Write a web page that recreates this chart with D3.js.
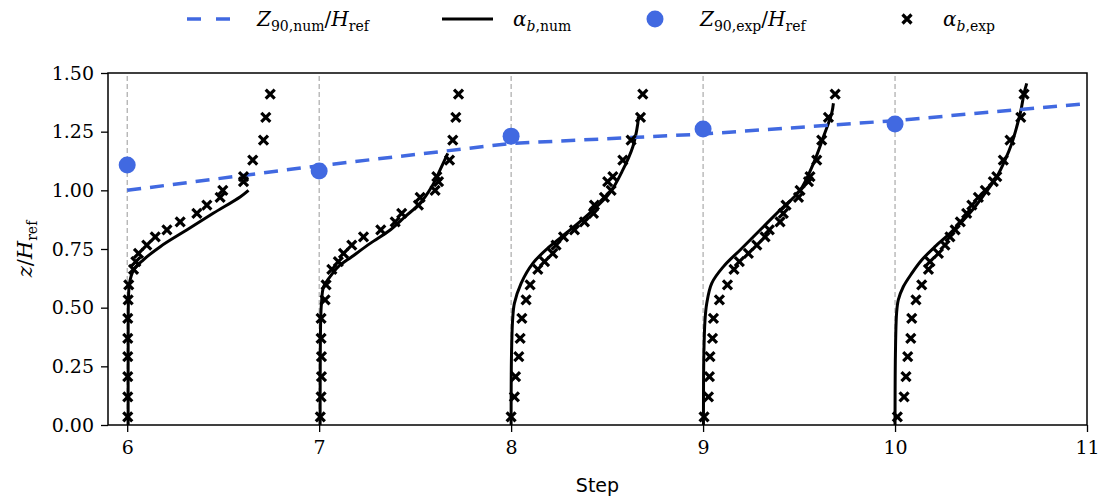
<!DOCTYPE html>
<html>
<head>
<meta charset="utf-8">
<script src="https://cdn.jsdelivr.net/npm/d3@7"></script>
<style>
  body { margin: 0; background: #fff; }
  svg { display: block; }
  .tick text { font-family: "DejaVu Serif", serif; font-size: 19px; }
  .math { font-family: "DejaVu Serif", serif; }
</style>
</head>
<body>
<svg id="chart" width="1104" height="498"></svg>
<script>
// steps (x ticks) and the dashed z90 line
const steps = [6, 7, 8, 9, 10];
const xTicks = [6, 7, 8, 9, 10, 11];
const yTicks = [0, 0.25, 0.5, 0.75, 1.0, 1.25, 1.5];
const z90NumStep = [6, 7, 8, 9, 10, 11];
const z90Num = [1.0, 1.105, 1.2, 1.24, 1.297, 1.37];
const z90Exp = [1.108, 1.082, 1.231, 1.261, 1.283];

// measurement heights of the experimental profiles
const expZ = [0.035, 0.12, 0.206, 0.291, 0.369, 0.454, 0.533, 0.597, 0.663, 0.696,
  0.731, 0.767, 0.802, 0.831, 0.866, 0.902, 0.937, 0.97, 1.0, 1.037, 1.058,
  1.129, 1.214, 1.311, 1.41];
const expA6 = [0.003, 0.003, 0.003, 0.003, 0.003, 0.003, 0.005, 0.008, 0.033, 0.045,
  0.059, 0.102, 0.146, 0.207, 0.276, 0.363, 0.415, 0.484, 0.498, 0.606, 0.606,
  0.654, 0.71, 0.722, 0.745];
const expA7 = [0.006, 0.01, 0.012, 0.012, 0.01, 0.01, 0.031, 0.036, 0.066, 0.1,
  0.127, 0.17, 0.231, 0.321, 0.396, 0.43, 0.517, 0.526, 0.604, 0.622, 0.613,
  0.679, 0.696, 0.712, 0.726];
const expA8 = [0.0, 0.017, 0.023, 0.04, 0.047, 0.056, 0.078, 0.099, 0.139, 0.174,
  0.217, 0.234, 0.273, 0.33, 0.382, 0.429, 0.434, 0.486, 0.521, 0.503, 0.53,
  0.582, 0.625, 0.674, 0.686];
const expA9 = [0.005, 0.028, 0.033, 0.036, 0.049, 0.054, 0.085, 0.127, 0.161, 0.189,
  0.236, 0.28, 0.323, 0.345, 0.401, 0.418, 0.432, 0.497, 0.505, 0.549, 0.557,
  0.592, 0.618, 0.653, 0.688];
const expA10 = [0.012, 0.047, 0.057, 0.066, 0.082, 0.087, 0.109, 0.139, 0.174, 0.182,
  0.226, 0.26, 0.286, 0.313, 0.34, 0.373, 0.4, 0.434, 0.47, 0.512, 0.53,
  0.564, 0.599, 0.655, 0.672];

// numerical profiles: heights and alpha
const numZ6 = [0, 0.3, 0.55, 0.605, 0.66, 0.703, 0.76, 0.831, 0.903, 0.973, 1.0];
const numA6 = [0.005, 0.005, 0.007, 0.012, 0.033, 0.083, 0.172, 0.31, 0.45, 0.59, 0.632];
const numZ7 = [0, 0.45, 0.518, 0.589, 0.632, 0.675, 0.717, 0.774, 0.831, 0.888, 0.945, 1.016, 1.087, 1.157];
const numA7 = [0.005, 0.008, 0.012, 0.023, 0.057, 0.1, 0.17, 0.266, 0.37, 0.448, 0.526, 0.587, 0.63, 0.67];
const numZ8 = [0, 0.3, 0.45, 0.518, 0.604, 0.689, 0.76, 0.817, 0.902, 0.987, 1.087, 1.186, 1.285, 1.314];
const numA8 = [0.0, 0.002, 0.008, 0.017, 0.052, 0.113, 0.2, 0.286, 0.408, 0.512, 0.582, 0.634, 0.66, 0.663];
const numZ9 = [0, 0.3, 0.447, 0.518, 0.604, 0.675, 0.746, 0.831, 0.916, 1.0, 1.115, 1.228, 1.328, 1.371];
const numA9 = [0.002, 0.004, 0.01, 0.019, 0.045, 0.106, 0.193, 0.297, 0.401, 0.505, 0.575, 0.627, 0.67, 0.679];
const numZ10 = [0, 0.3, 0.476, 0.533, 0.589, 0.646, 0.703, 0.76, 0.817, 0.873, 0.93, 0.987, 1.058, 1.129, 1.2, 1.271, 1.342, 1.413, 1.456];
const numA10 = [0.0, 0.002, 0.008, 0.017, 0.043, 0.087, 0.139, 0.208, 0.286, 0.356, 0.417, 0.469, 0.53, 0.573, 0.608, 0.634, 0.656, 0.672, 0.686];

const expA = [expA6, expA7, expA8, expA9, expA10];
const numZ = [numZ6, numZ7, numZ8, numZ9, numZ10];
const numA = [numA6, numA7, numA8, numA9, numA10];

const blue = "#4169e1";

const margin = { top: 73, right: 17, bottom: 73, left: 108 };
const W = 1104, H = 498;
const svg = d3.select("#chart");

const x = d3.scaleLinear().domain([5.9, 11]).range([margin.left, W - margin.right]);
const y = d3.scaleLinear().domain([0, 1.5]).range([H - margin.bottom, margin.top]);

svg.append("defs").append("clipPath").attr("id", "clip")
  .append("rect")
  .attr("x", margin.left).attr("y", margin.top)
  .attr("width", x.range()[1] - x.range()[0])
  .attr("height", y.range()[0] - y.range()[1]);

const plot = svg.append("g").attr("clip-path", "url(#clip)");

// vertical reference lines at each step
plot.selectAll("line.vgrid")
  .data(steps)
  .join("line")
  .attr("class", "vgrid")
  .attr("x1", (d) => x(d)).attr("x2", (d) => x(d))
  .attr("y1", y(0)).attr("y2", y(1.5))
  .attr("stroke", "#999").attr("stroke-width", 1)
  .attr("stroke-dasharray", "5,3");

// numerical profiles
const line = d3.line()
  .x((d) => x(d.s + d.a))
  .y((d) => y(d.z))
  .curve(d3.curveCatmullRom.alpha(0.5));

const numData = steps.map((s, i) => numZ[i].map((z, j) => ({ s, z, a: numA[i][j] })));
plot.selectAll("path.num")
  .data(numData)
  .join("path")
  .attr("class", "num")
  .attr("d", line)
  .attr("fill", "none")
  .attr("stroke", "#000")
  .attr("stroke-width", 3);

// dashed z90 numerical line
const z90Data = z90NumStep.map((s, i) => ({ s, z: z90Num[i] }));
plot.append("path")
  .datum(z90Data)
  .attr("d", d3.line().x((d) => x(d.s)).y((d) => y(d.z)))
  .attr("fill", "none")
  .attr("stroke", blue)
  .attr("stroke-width", 3.5)
  .attr("stroke-dasharray", "14,9");

// experimental points
const cross = "M-4.5,-4.5L4.5,4.5M4.5,-4.5L-4.5,4.5";
const expData = [];
steps.forEach((s, i) => expZ.forEach((z, j) => expData.push({ s, z, a: expA[i][j] })));
plot.selectAll("path.exp")
  .data(expData)
  .join("path")
  .attr("class", "exp")
  .attr("d", cross)
  .attr("transform", (d) => `translate(${x(d.s + d.a)},${y(d.z)})`)
  .attr("stroke", "#000")
  .attr("stroke-width", 3.2)
  .attr("fill", "none");

plot.selectAll("circle.z90exp")
  .data(steps)
  .join("circle")
  .attr("class", "z90exp")
  .attr("cx", (d) => x(d))
  .attr("cy", (d, i) => y(z90Exp[i]))
  .attr("r", 8.5)
  .attr("fill", blue);

// axes
const xAxis = svg.append("g")
  .attr("transform", `translate(0,${y(0)})`)
  .call(d3.axisBottom(x).tickValues(xTicks).tickFormat(d3.format("d")).tickSize(7).tickPadding(6));
const yAxis = svg.append("g")
  .attr("transform", `translate(${x(5.9)},0)`)
  .call(d3.axisLeft(y).tickValues(yTicks).tickFormat(d3.format(".2f")).tickSize(7).tickPadding(7));
[xAxis, yAxis].forEach((g) => {
  g.select(".domain").remove();
  g.selectAll("line").attr("stroke", "#000").attr("stroke-width", 1.3);
  g.selectAll("text").attr("fill", "#000");
});
xAxis.selectAll("text").attr("dy", "0.85em");

// frame
svg.append("rect")
  .attr("x", x(5.9)).attr("y", y(1.5))
  .attr("width", x(11) - x(5.9))
  .attr("height", y(0) - y(1.5))
  .attr("fill", "none")
  .attr("stroke", "#000")
  .attr("stroke-width", 1.5);

// axis labels
svg.append("text")
  .attr("x", (x(5.9) + x(11)) / 2)
  .attr("y", 492)
  .attr("text-anchor", "middle")
  .attr("font-family", "DejaVu Sans, sans-serif")
  .attr("font-size", 19)
  .text("Step");

const yl = svg.append("text")
  .attr("class", "math")
  .attr("transform", `translate(32,${(y(0) + y(1.5)) / 2}) rotate(-90)`)
  .attr("text-anchor", "middle")
  .attr("font-size", 21);
yl.append("tspan").attr("font-style", "italic").text("z");
yl.append("tspan").text("/");
yl.append("tspan").attr("font-style", "italic").text("H");
yl.append("tspan").attr("font-size", 14).attr("dy", 5).text("ref");

// legend
function mathLabel(g, parts, lx) {
  const t = g.append("text")
    .attr("class", "math")
    .attr("x", lx).attr("y", 26)
    .attr("font-size", 20);
  parts.forEach((p) => {
    const ts = t.append("tspan").text(p.t);
    if (p.i) ts.attr("font-style", "italic");
    if (p.small) ts.attr("font-size", 14);
    if (p.dy) ts.attr("dy", p.dy);
  });
}
const legend = svg.append("g");
legend.append("line")
  .attr("x1", 187).attr("x2", 231).attr("y1", 19).attr("y2", 19)
  .attr("stroke", blue).attr("stroke-width", 3.5).attr("stroke-dasharray", "14,15");
mathLabel(legend, [{ t: "Z", i: true }, { t: "90,num", small: true, dy: 5 }, { t: "/", dy: -5 },
  { t: "H", i: true }, { t: "ref", small: true, dy: 5 }], 257);
legend.append("line")
  .attr("x1", 442).attr("x2", 493).attr("y1", 19).attr("y2", 19)
  .attr("stroke", "#000").attr("stroke-width", 3);
mathLabel(legend, [{ t: "α", i: true }, { t: "b", small: true, i: true, dy: 5 }, { t: ",num", small: true }], 513);
legend.append("circle")
  .attr("cx", 655).attr("cy", 19).attr("r", 8.5).attr("fill", blue);
mathLabel(legend, [{ t: "Z", i: true }, { t: "90,exp", small: true, dy: 5 }, { t: "/", dy: -5 },
  { t: "H", i: true }, { t: "ref", small: true, dy: 5 }], 700);
legend.append("path")
  .attr("d", cross)
  .attr("transform", "translate(907,19)")
  .attr("stroke", "#000").attr("stroke-width", 3.2);
mathLabel(legend, [{ t: "α", i: true }, { t: "b", small: true, i: true, dy: 5 }, { t: ",exp", small: true }], 943);
</script>
</body>
</html>
